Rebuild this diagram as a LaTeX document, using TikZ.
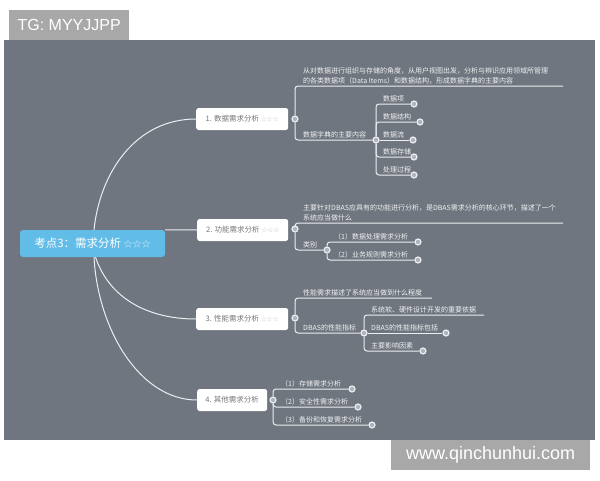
\documentclass[tikz,border=0pt]{standalone}
\usepackage{fontspec}
\setmainfont{Noto Sans CJK SC}
\newfontfamily\tagfont{Liberation Sans}
\usetikzlibrary{positioning}
\definecolor{boardgray}{RGB}{111,118,128}
\definecolor{taggray}{RGB}{168,168,168}
\definecolor{rootblue}{RGB}{98,188,232}
\definecolor{linewhite}{RGB}{236,238,241}
\definecolor{branchtext}{RGB}{118,118,118}
\definecolor{stargray}{RGB}{200,200,200}
\definecolor{leaftext}{RGB}{242,242,242}
\definecolor{dotgray}{RGB}{175,180,188}
\tikzstyle{root} = [rectangle, rounded corners=3pt, fill=rootblue, text=white, minimum width=145pt, minimum height=27pt, inner sep=0pt, font=\fontsize{11.5}{13}\selectfont]
\tikzstyle{branch} = [rectangle, rounded corners=2.5pt, fill=white, text=branchtext, minimum height=22pt, inner sep=0pt, anchor=west, font=\fontsize{7.5}{9}\selectfont]
\tikzstyle{dot} = [circle, draw=linewhite, fill=dotgray, line width=1.2pt, inner sep=0pt, minimum size=6pt]
\tikzstyle{leaf} = [anchor=south west, inner sep=1pt, text=leaftext, align=left, font=\fontsize{7}{10}\selectfont]
\tikzstyle{wire} = [draw=linewhite, line width=1pt, rounded corners=3pt]
\tikzstyle{tagbox} = [rectangle, fill=taggray, text=white, inner sep=0pt, anchor=north west]
\newcommand{\stars}{{\color{stargray}\fontsize{6}{7}\selectfont ☆☆☆}}

\begin{document}
\begin{tikzpicture}[x=1pt,y=-1pt]
  \useasboundingbox (0,0) rectangle (600,480);
  % board and watermarks
  \fill[boardgray] (4,40) rectangle (595,440);
  \draw (9,10)node[tagbox, minimum width=120pt, minimum height=30pt](tg){\tagfont\fontsize{16}{18}\selectfont TG: MYYJJPP\hspace{6pt}};
  \draw (391,440)node[tagbox, minimum width=199pt, minimum height=30pt](www){\tagfont\fontsize{18}{20}\selectfont www.qinchunhui.com\hspace{6pt}};

  % root and branches
  \draw (92.5,243.5)node[root](r){考点3：需求分析 {\color{white!80!rootblue}\fontsize{9}{10}\selectfont ☆☆☆}};
  \draw (196,119)node[branch, minimum width=92pt](b1){1. 数据需求分析 \stars};
  \draw (197,230)node[branch, minimum width=91pt](b2){2. 功能需求分析 \stars};
  \draw (196,319)node[branch, minimum width=92pt](b3){3. 性能需求分析 \stars};
  \draw (197,400)node[branch, minimum width=70pt](b4){4. 其他需求分析};
  \draw[wire] ([xshift=1.5pt]r.north) .. controls (100,172) and (136,119) .. (b1.west);
  \draw[wire] (r.north east) -- (b2.west);
  \draw[wire] ([xshift=3pt]r.south) .. controls (110,300) and (150,319) .. (b3.west);
  \draw[wire] ([xshift=1.5pt]r.south) .. controls (98,330) and (140,400) .. (b4.west);

  % 1. data
  \draw (295,119)node[dot](d1){};
  \coordinate (e11) at (563,86);
  \draw (302,85)node[leaf](t11){从对数据进行组织与存储的角度，从用户视图出发，分析与辨识应用领域所管理\\的各类数据项（Data Items）和数据结构，形成数据字典的主要内容};
  \draw (302,139)node[leaf](t12){数据字典的主要内容};
  \draw (376,140)node[dot](d11){};
  \draw (414,104)node[dot](d111){};
  \draw (420,122)node[dot](d112){};
  \draw (413,140)node[dot](d113){};
  \draw (414,157)node[dot](d114){};
  \draw (414,175)node[dot](d115){};
  \draw (382,103)node[leaf]{数据项};
  \draw (382,121)node[leaf]{数据结构};
  \draw (382,139)node[leaf]{数据流};
  \draw (382,156)node[leaf]{数据存储};
  \draw (382,174)node[leaf]{处理过程};
  \draw[wire] (d1) |- (e11);
  \draw[wire] (d1) |- (d11);
  \draw[wire] (d11) |- (d111);
  \draw[wire] (d11) |- (d112);
  \draw[wire] (d11) -- (d113);
  \draw[wire] (d11) |- (d114);
  \draw[wire] (d11) |- (d115);

  % 2. function
  \draw (295,229)node[dot](d2){};
  \coordinate (e21) at (563,223);
  \draw (302,222)node[leaf](t21){主要针对DBAS应具有的功能进行分析，是DBAS需求分析的核心环节，描述了一个\\系统应当做什么};
  \draw (302,249)node[leaf](t22){类别};
  \draw (327,250)node[dot](d21){};
  \draw (418,242)node[dot](d211){};
  \draw (418,260)node[dot](d212){};
  \draw (333,241)node[leaf]{（1）数据处理需求分析};
  \draw (333,259)node[leaf]{（2）业务规则需求分析};
  \draw[wire] (d2) |- (e21);
  \draw[wire] (d2) |- (d21);
  \draw[wire] (d21) |- (d211);
  \draw[wire] (d21) |- (d212);

  % 3. performance
  \draw (295,318)node[dot](d3){};
  \coordinate (e31) at (432,298);
  \draw (302,297)node[leaf](t31){性能需求描述了系统应当做到什么程度};
  \draw (302,332)node[leaf](t32){DBAS的性能指标};
  \draw (364,333)node[dot](d31){};
  \coordinate (e311) at (484,315);
  \draw (446,333)node[dot](d312){};
  \draw (423,351)node[dot](d313){};
  \draw (370,314)node[leaf]{系统软、硬件设计开发的重要依据};
  \draw (370,332)node[leaf]{DBAS的性能指标包括};
  \draw (370,350)node[leaf]{主要影响因素};
  \draw[wire] (d3) |- (e31);
  \draw[wire] (d3) |- (d31);
  \draw[wire] (d31) |- (e311);
  \draw[wire] (d31) -- (d312);
  \draw[wire] (d31) |- (d313);

  % 4. other
  \draw (273,400)node[dot](d4){};
  \draw (352,389)node[dot](d41){};
  \draw (358,407)node[dot](d42){};
  \draw (372,425)node[dot](d43){};
  \draw (280,388)node[leaf]{（1）存储需求分析};
  \draw (280,406)node[leaf]{（2）安全性需求分析};
  \draw (280,424)node[leaf]{（3）备份和恢复需求分析};
  \draw[wire] (d4) |- (d41);
  \draw[wire] (d4) |- (d42);
  \draw[wire] (d4) |- (d43);
\end{tikzpicture}
\end{document}
